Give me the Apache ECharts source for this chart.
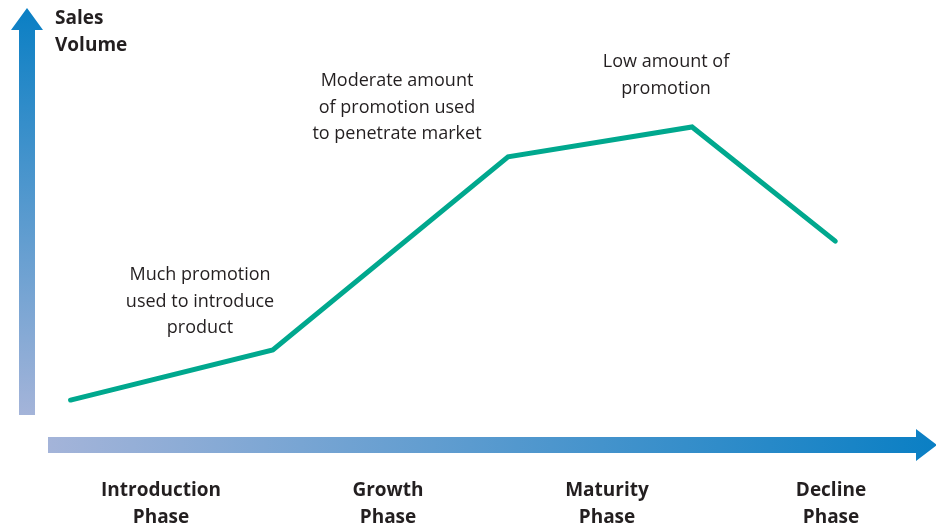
<!DOCTYPE html>
<html>
<head>
<meta charset="utf-8">
<style>
  html, body { margin: 0; padding: 0; background: #fff; }
  #chart { width: 936px; height: 528px; }
</style>
<script src="https://cdn.jsdelivr.net/npm/echarts@6/dist/echarts.min.js"></script>
</head>
<body>
<div id="chart"></div>
<script>
// time (0-100) vs sales volume (0-100)
const timeValues = [2.6, 25.9, 53.0, 74.2, 90.7]
const salesValues = [3.6, 15.7, 62.2, 69.4, 41.9]

const phaseLabels = ['Introduction\nPhase', 'Growth\nPhase', 'Maturity\nPhase', 'Decline\nPhase']
const phaseCenters = [161, 388, 607, 831]

const notes = [
  { text: 'Much promotion\nused to introduce\nproduct', x: 200, y: 262 },
  { text: 'Moderate amount\nof promotion used\nto penetrate market', x: 397, y: 68 },
  { text: 'Low amount of\npromotion', x: 666, y: 49 }
]

const blue = '#0a7fc4'
const pale = '#a4b4d9'
const textColor = '#231f20'

const chart = echarts.init(document.getElementById('chart'))

const graphics = [
  // y axis arrow
  {
    type: 'polygon',
    shape: { points: [[19, 415], [35, 415], [35, 30], [43, 30], [27, 8], [11, 30], [19, 30]] },
    style: {
      fill: new echarts.graphic.LinearGradient(0, 1, 0, 0, [
        { offset: 0, color: pale },
        { offset: 1, color: blue }
      ])
    }
  },
  // x axis arrow
  {
    type: 'polygon',
    shape: { points: [[48, 437], [916, 437], [916, 429], [937, 445], [916, 461], [916, 453], [48, 453]] },
    style: {
      fill: new echarts.graphic.LinearGradient(0, 0, 1, 0, [
        { offset: 0, color: pale },
        { offset: 1, color: blue }
      ])
    }
  },
  {
    type: 'text',
    left: 55, top: 5,
    style: {
      text: 'Sales\nVolume',
      font: 'bold 19px "Open Sans", sans-serif',
      lineHeight: 27,
      fill: textColor
    }
  }
]

phaseLabels.forEach((label, i) => {
  graphics.push({
    type: 'text',
    x: phaseCenters[i], y: 477,
    style: {
      text: label,
      textAlign: 'center',
      font: 'bold 19px "Open Sans", sans-serif',
      lineHeight: 27,
      fill: textColor
    }
  })
})

notes.forEach(n => {
  graphics.push({
    type: 'text',
    x: n.x, y: n.y,
    style: {
      text: n.text,
      textAlign: 'center',
      font: '18px "Open Sans", sans-serif',
      lineHeight: 26.5,
      fill: textColor
    }
  })
})

chart.setOption({
  animation: false,
  grid: { left: 48, right: 20, top: 0, bottom: 113 },
  xAxis: { type: 'value', min: 0, max: 100, show: false },
  yAxis: { type: 'value', min: 0, max: 100, show: false },
  series: [{
    type: 'line',
    data: timeValues.map((t, i) => [t, salesValues[i]]),
    symbol: 'none',
    lineStyle: { color: '#00a88e', width: 5, cap: 'round', join: 'miter' }
  }],
  graphic: graphics
})
</script>
</body>
</html>
